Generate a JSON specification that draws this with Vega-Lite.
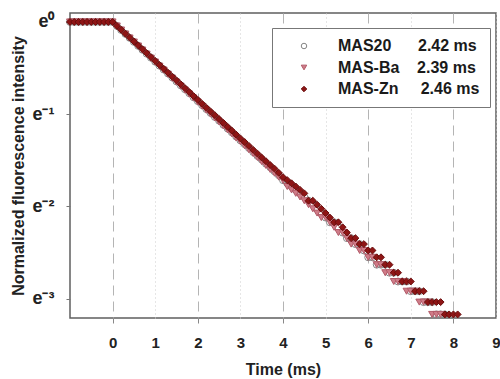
{
  "$schema": "https://vega.github.io/schema/vega-lite/v6.json",
  "width": 426,
  "height": 305,
  "autosize": {"type": "none"},
  "padding": {"left": 70, "top": 13, "right": 4, "bottom": 61},
  "background": "white",
  "config": {
    "font": "Liberation Sans",
    "view": {"stroke": "#5f5f5f", "strokeWidth": 1.5}
  },
  "data": {"values": [
    {"s":"MAS20","t":-1.0,"I":1},{"s":"MAS20","t":-0.9,"I":1},{"s":"MAS20","t":-0.8,"I":1},{"s":"MAS20","t":-0.7,"I":1},{"s":"MAS20","t":-0.6,"I":1},{"s":"MAS20","t":-0.5,"I":1},{"s":"MAS20","t":-0.4,"I":1},{"s":"MAS20","t":-0.3,"I":1},{"s":"MAS20","t":-0.2,"I":1},{"s":"MAS20","t":-0.1,"I":1},{"s":"MAS20","t":0.0,"I":1},
    {"s":"MAS20","t":0.1,"I":0.958},{"s":"MAS20","t":0.2,"I":0.917},{"s":"MAS20","t":0.3,"I":0.879},{"s":"MAS20","t":0.4,"I":0.842},{"s":"MAS20","t":0.5,"I":0.806},{"s":"MAS20","t":0.6,"I":0.772},{"s":"MAS20","t":0.7,"I":0.740},{"s":"MAS20","t":0.8,"I":0.709},{"s":"MAS20","t":0.9,"I":0.679},
    {"s":"MAS20","t":1.0,"I":0.650},{"s":"MAS20","t":1.1,"I":0.623},{"s":"MAS20","t":1.2,"I":0.597},{"s":"MAS20","t":1.3,"I":0.572},{"s":"MAS20","t":1.4,"I":0.548},{"s":"MAS20","t":1.5,"I":0.525},{"s":"MAS20","t":1.6,"I":0.503},{"s":"MAS20","t":1.7,"I":0.482},{"s":"MAS20","t":1.8,"I":0.462},{"s":"MAS20","t":1.9,"I":0.442},
    {"s":"MAS20","t":2.0,"I":0.424},{"s":"MAS20","t":2.1,"I":0.406},{"s":"MAS20","t":2.2,"I":0.389},{"s":"MAS20","t":2.3,"I":0.373},{"s":"MAS20","t":2.4,"I":0.357},{"s":"MAS20","t":2.5,"I":0.343},{"s":"MAS20","t":2.6,"I":0.328},{"s":"MAS20","t":2.7,"I":0.315},{"s":"MAS20","t":2.8,"I":0.302},{"s":"MAS20","t":2.9,"I":0.289},
    {"s":"MAS20","t":3.0,"I":0.277},{"s":"MAS20","t":3.1,"I":0.266},{"s":"MAS20","t":3.2,"I":0.255},{"s":"MAS20","t":3.3,"I":0.244},{"s":"MAS20","t":3.4,"I":0.234},{"s":"MAS20","t":3.5,"I":0.225},{"s":"MAS20","t":3.6,"I":0.215},{"s":"MAS20","t":3.7,"I":0.207},{"s":"MAS20","t":3.8,"I":0.198},{"s":"MAS20","t":3.9,"I":0.190},
    {"s":"MAS20","t":4.0,"I":0.180},{"s":"MAS20","t":4.1,"I":0.174},{"s":"MAS20","t":4.2,"I":0.168},{"s":"MAS20","t":4.3,"I":0.162},{"s":"MAS20","t":4.4,"I":0.156},{"s":"MAS20","t":4.5,"I":0.150},{"s":"MAS20","t":4.6,"I":0.144},{"s":"MAS20","t":4.7,"I":0.138},{"s":"MAS20","t":4.8,"I":0.132},{"s":"MAS20","t":4.9,"I":0.126},
    {"s":"MAS20","t":5.0,"I":0.120},{"s":"MAS20","t":5.1,"I":0.114},{"s":"MAS20","t":5.2,"I":0.114},{"s":"MAS20","t":5.3,"I":0.108},{"s":"MAS20","t":5.4,"I":0.102},{"s":"MAS20","t":5.5,"I":0.096},{"s":"MAS20","t":5.6,"I":0.096},{"s":"MAS20","t":5.7,"I":0.090},{"s":"MAS20","t":5.8,"I":0.090},{"s":"MAS20","t":5.9,"I":0.084},
    {"s":"MAS20","t":6.0,"I":0.078},{"s":"MAS20","t":6.1,"I":0.078},{"s":"MAS20","t":6.2,"I":0.072},{"s":"MAS20","t":6.3,"I":0.072},{"s":"MAS20","t":6.4,"I":0.072},{"s":"MAS20","t":6.5,"I":0.066},{"s":"MAS20","t":6.6,"I":0.066},{"s":"MAS20","t":6.7,"I":0.060},{"s":"MAS20","t":6.8,"I":0.060},{"s":"MAS20","t":6.9,"I":0.060},
    {"s":"MAS20","t":7.0,"I":0.054},{"s":"MAS20","t":7.1,"I":0.054},{"s":"MAS20","t":7.2,"I":0.054},{"s":"MAS20","t":7.3,"I":0.048},{"s":"MAS20","t":7.4,"I":0.048},{"s":"MAS20","t":7.5,"I":0.048},{"s":"MAS20","t":7.6,"I":0.042},{"s":"MAS20","t":7.7,"I":0.042},{"s":"MAS20","t":7.8,"I":0.042},

    {"s":"MAS-Ba","t":-1.0,"I":1},{"s":"MAS-Ba","t":-0.9,"I":1},{"s":"MAS-Ba","t":-0.8,"I":1},{"s":"MAS-Ba","t":-0.7,"I":1},{"s":"MAS-Ba","t":-0.6,"I":1},{"s":"MAS-Ba","t":-0.5,"I":1},{"s":"MAS-Ba","t":-0.4,"I":1},{"s":"MAS-Ba","t":-0.3,"I":1},{"s":"MAS-Ba","t":-0.2,"I":1},{"s":"MAS-Ba","t":-0.1,"I":1},{"s":"MAS-Ba","t":0.0,"I":1},
    {"s":"MAS-Ba","t":0.1,"I":0.957},{"s":"MAS-Ba","t":0.2,"I":0.916},{"s":"MAS-Ba","t":0.3,"I":0.877},{"s":"MAS-Ba","t":0.4,"I":0.840},{"s":"MAS-Ba","t":0.5,"I":0.804},{"s":"MAS-Ba","t":0.6,"I":0.770},{"s":"MAS-Ba","t":0.7,"I":0.737},{"s":"MAS-Ba","t":0.8,"I":0.705},{"s":"MAS-Ba","t":0.9,"I":0.675},
    {"s":"MAS-Ba","t":1.0,"I":0.647},{"s":"MAS-Ba","t":1.1,"I":0.619},{"s":"MAS-Ba","t":1.2,"I":0.593},{"s":"MAS-Ba","t":1.3,"I":0.567},{"s":"MAS-Ba","t":1.4,"I":0.543},{"s":"MAS-Ba","t":1.5,"I":0.520},{"s":"MAS-Ba","t":1.6,"I":0.498},{"s":"MAS-Ba","t":1.7,"I":0.477},{"s":"MAS-Ba","t":1.8,"I":0.457},{"s":"MAS-Ba","t":1.9,"I":0.438},
    {"s":"MAS-Ba","t":2.0,"I":0.419},{"s":"MAS-Ba","t":2.1,"I":0.401},{"s":"MAS-Ba","t":2.2,"I":0.384},{"s":"MAS-Ba","t":2.3,"I":0.368},{"s":"MAS-Ba","t":2.4,"I":0.353},{"s":"MAS-Ba","t":2.5,"I":0.338},{"s":"MAS-Ba","t":2.6,"I":0.324},{"s":"MAS-Ba","t":2.7,"I":0.310},{"s":"MAS-Ba","t":2.8,"I":0.297},{"s":"MAS-Ba","t":2.9,"I":0.284},
    {"s":"MAS-Ba","t":3.0,"I":0.273},{"s":"MAS-Ba","t":3.1,"I":0.261},{"s":"MAS-Ba","t":3.2,"I":0.250},{"s":"MAS-Ba","t":3.3,"I":0.240},{"s":"MAS-Ba","t":3.4,"I":0.230},{"s":"MAS-Ba","t":3.5,"I":0.220},{"s":"MAS-Ba","t":3.6,"I":0.211},{"s":"MAS-Ba","t":3.7,"I":0.202},{"s":"MAS-Ba","t":3.8,"I":0.194},{"s":"MAS-Ba","t":3.9,"I":0.186},
    {"s":"MAS-Ba","t":4.0,"I":0.180},{"s":"MAS-Ba","t":4.1,"I":0.168},{"s":"MAS-Ba","t":4.2,"I":0.162},{"s":"MAS-Ba","t":4.3,"I":0.156},{"s":"MAS-Ba","t":4.4,"I":0.150},{"s":"MAS-Ba","t":4.5,"I":0.144},{"s":"MAS-Ba","t":4.6,"I":0.138},{"s":"MAS-Ba","t":4.7,"I":0.132},{"s":"MAS-Ba","t":4.8,"I":0.126},{"s":"MAS-Ba","t":4.9,"I":0.120},
    {"s":"MAS-Ba","t":5.0,"I":0.120},{"s":"MAS-Ba","t":5.1,"I":0.114},{"s":"MAS-Ba","t":5.2,"I":0.108},{"s":"MAS-Ba","t":5.3,"I":0.102},{"s":"MAS-Ba","t":5.4,"I":0.102},{"s":"MAS-Ba","t":5.5,"I":0.096},{"s":"MAS-Ba","t":5.6,"I":0.090},{"s":"MAS-Ba","t":5.7,"I":0.090},{"s":"MAS-Ba","t":5.8,"I":0.084},{"s":"MAS-Ba","t":5.9,"I":0.084},
    {"s":"MAS-Ba","t":6.0,"I":0.078},{"s":"MAS-Ba","t":6.1,"I":0.078},{"s":"MAS-Ba","t":6.2,"I":0.072},{"s":"MAS-Ba","t":6.3,"I":0.072},{"s":"MAS-Ba","t":6.4,"I":0.066},{"s":"MAS-Ba","t":6.5,"I":0.066},{"s":"MAS-Ba","t":6.6,"I":0.060},{"s":"MAS-Ba","t":6.7,"I":0.060},{"s":"MAS-Ba","t":6.8,"I":0.060},{"s":"MAS-Ba","t":6.9,"I":0.054},
    {"s":"MAS-Ba","t":7.0,"I":0.054},{"s":"MAS-Ba","t":7.1,"I":0.054},{"s":"MAS-Ba","t":7.2,"I":0.048},{"s":"MAS-Ba","t":7.3,"I":0.048},{"s":"MAS-Ba","t":7.4,"I":0.048},{"s":"MAS-Ba","t":7.5,"I":0.042},{"s":"MAS-Ba","t":7.6,"I":0.042},{"s":"MAS-Ba","t":7.7,"I":0.042},

    {"s":"MAS-Zn","t":-1.0,"I":1},{"s":"MAS-Zn","t":-0.9,"I":1},{"s":"MAS-Zn","t":-0.8,"I":1},{"s":"MAS-Zn","t":-0.7,"I":1},{"s":"MAS-Zn","t":-0.6,"I":1},{"s":"MAS-Zn","t":-0.5,"I":1},{"s":"MAS-Zn","t":-0.4,"I":1},{"s":"MAS-Zn","t":-0.3,"I":1},{"s":"MAS-Zn","t":-0.2,"I":1},{"s":"MAS-Zn","t":-0.1,"I":1},{"s":"MAS-Zn","t":0.0,"I":1},
    {"s":"MAS-Zn","t":0.1,"I":0.958},{"s":"MAS-Zn","t":0.2,"I":0.919},{"s":"MAS-Zn","t":0.3,"I":0.881},{"s":"MAS-Zn","t":0.4,"I":0.844},{"s":"MAS-Zn","t":0.5,"I":0.809},{"s":"MAS-Zn","t":0.6,"I":0.776},{"s":"MAS-Zn","t":0.7,"I":0.744},{"s":"MAS-Zn","t":0.8,"I":0.713},{"s":"MAS-Zn","t":0.9,"I":0.683},
    {"s":"MAS-Zn","t":1.0,"I":0.655},{"s":"MAS-Zn","t":1.1,"I":0.628},{"s":"MAS-Zn","t":1.2,"I":0.602},{"s":"MAS-Zn","t":1.3,"I":0.577},{"s":"MAS-Zn","t":1.4,"I":0.553},{"s":"MAS-Zn","t":1.5,"I":0.531},{"s":"MAS-Zn","t":1.6,"I":0.509},{"s":"MAS-Zn","t":1.7,"I":0.488},{"s":"MAS-Zn","t":1.8,"I":0.468},{"s":"MAS-Zn","t":1.9,"I":0.448},
    {"s":"MAS-Zn","t":2.0,"I":0.430},{"s":"MAS-Zn","t":2.1,"I":0.412},{"s":"MAS-Zn","t":2.2,"I":0.395},{"s":"MAS-Zn","t":2.3,"I":0.379},{"s":"MAS-Zn","t":2.4,"I":0.364},{"s":"MAS-Zn","t":2.5,"I":0.349},{"s":"MAS-Zn","t":2.6,"I":0.335},{"s":"MAS-Zn","t":2.7,"I":0.321},{"s":"MAS-Zn","t":2.8,"I":0.308},{"s":"MAS-Zn","t":2.9,"I":0.295},
    {"s":"MAS-Zn","t":3.0,"I":0.283},{"s":"MAS-Zn","t":3.1,"I":0.272},{"s":"MAS-Zn","t":3.2,"I":0.261},{"s":"MAS-Zn","t":3.3,"I":0.250},{"s":"MAS-Zn","t":3.4,"I":0.240},{"s":"MAS-Zn","t":3.5,"I":0.230},{"s":"MAS-Zn","t":3.6,"I":0.221},{"s":"MAS-Zn","t":3.7,"I":0.212},{"s":"MAS-Zn","t":3.8,"I":0.204},{"s":"MAS-Zn","t":3.9,"I":0.195},
    {"s":"MAS-Zn","t":4.0,"I":0.186},{"s":"MAS-Zn","t":4.1,"I":0.180},{"s":"MAS-Zn","t":4.2,"I":0.174},{"s":"MAS-Zn","t":4.3,"I":0.168},{"s":"MAS-Zn","t":4.4,"I":0.162},{"s":"MAS-Zn","t":4.5,"I":0.156},{"s":"MAS-Zn","t":4.6,"I":0.144},{"s":"MAS-Zn","t":4.7,"I":0.144},{"s":"MAS-Zn","t":4.8,"I":0.138},{"s":"MAS-Zn","t":4.9,"I":0.132},
    {"s":"MAS-Zn","t":5.0,"I":0.126},{"s":"MAS-Zn","t":5.1,"I":0.120},{"s":"MAS-Zn","t":5.2,"I":0.114},{"s":"MAS-Zn","t":5.3,"I":0.114},{"s":"MAS-Zn","t":5.4,"I":0.108},{"s":"MAS-Zn","t":5.5,"I":0.102},{"s":"MAS-Zn","t":5.6,"I":0.096},{"s":"MAS-Zn","t":5.7,"I":0.096},{"s":"MAS-Zn","t":5.8,"I":0.090},{"s":"MAS-Zn","t":5.9,"I":0.090},
    {"s":"MAS-Zn","t":6.0,"I":0.084},{"s":"MAS-Zn","t":6.1,"I":0.084},{"s":"MAS-Zn","t":6.2,"I":0.078},{"s":"MAS-Zn","t":6.3,"I":0.078},{"s":"MAS-Zn","t":6.4,"I":0.072},{"s":"MAS-Zn","t":6.5,"I":0.072},{"s":"MAS-Zn","t":6.6,"I":0.066},{"s":"MAS-Zn","t":6.7,"I":0.066},{"s":"MAS-Zn","t":6.8,"I":0.060},{"s":"MAS-Zn","t":6.9,"I":0.060},
    {"s":"MAS-Zn","t":7.0,"I":0.060},{"s":"MAS-Zn","t":7.1,"I":0.054},{"s":"MAS-Zn","t":7.2,"I":0.054},{"s":"MAS-Zn","t":7.3,"I":0.054},{"s":"MAS-Zn","t":7.4,"I":0.048},{"s":"MAS-Zn","t":7.5,"I":0.048},{"s":"MAS-Zn","t":7.6,"I":0.048},{"s":"MAS-Zn","t":7.7,"I":0.048},{"s":"MAS-Zn","t":7.8,"I":0.042},{"s":"MAS-Zn","t":7.9,"I":0.042},{"s":"MAS-Zn","t":8.0,"I":0.042},{"s":"MAS-Zn","t":8.1,"I":0.042}
  ]},
  "mark": {"type": "point", "size": 48, "strokeWidth": 1, "opacity": 1},
  "encoding": {
    "x": {
      "field": "t", "type": "quantitative",
      "scale": {"domain": [-1, 9], "nice": false, "zero": false},
      "axis": {
        "values": [0, 1, 2, 3, 4, 5, 6, 7, 8, 9],
        "title": "Time (ms)",
        "grid": true,
        "gridColor": {"condition": {"test": "datum.value % 2 === 0", "value": "#b4b4b4"}, "value": "#cccccc"},
        "gridDash": {"condition": {"test": "datum.value % 2 === 0", "value": [10, 6]}, "value": [1, 3]},
        "gridWidth": 1,
        "tickColor": {"condition": {"test": "datum.value % 2 === 0", "value": "#888888"}, "value": "transparent"},
        "tickSize": 5,
        "domain": false,
        "labelFont": "Liberation Sans",
        "labelFontWeight": "bold",
        "labelFontSize": 15,
        "labelColor": "#222222",
        "labelPadding": 12,
        "labelFlush": false,
        "titleFont": "Liberation Sans",
        "titleFontSize": 16,
        "titleFontWeight": "bold",
        "titleColor": "#222222",
        "titleY": 56,
        "titleBaseline": "alphabetic"
      }
    },
    "y": {
      "field": "I", "type": "quantitative",
      "scale": {"type": "log", "base": 2.718281828459045, "domain": [0.0404, 1.102], "nice": false, "zero": false},
      "axis": {
        "values": [1, 0.36787944, 0.13533528, 0.04978707],
        "labelExpr": "datum.value > 0.6 ? 'e⁰' : datum.value > 0.25 ? 'e⁻¹' : datum.value > 0.09 ? 'e⁻²' : 'e⁻³'",
        "grid": false,
        "tickSize": 4,
        "tickColor": "#777777",
        "domain": false,
        "labelFont": "Liberation Sans",
        "labelFontWeight": "bold",
        "labelFontSize": 18,
        "labelColor": "#222222",
        "labelPadding": 12,
        "labelBaseline": "middle",
        "title": "Normalized fluorescence intensity",
        "titleFont": "Liberation Sans",
        "titleFontSize": 16,
        "titleFontWeight": "bold",
        "titleColor": "#222222",
        "titleX": -52,
        "titleY": 152.5,
        "titleAngle": -90,
        "titleAlign": "center",
        "titleBaseline": "middle"
      }
    },
    "shape": {
      "field": "s", "type": "nominal",
      "scale": {"domain": ["MAS20", "MAS-Ba", "MAS-Zn"], "range": ["circle", "triangle-down", "diamond"]},
      "legend": {
        "orient": "none", "legendX": 202, "legendY": 15,
        "title": null,
        "padding": 10,
        "strokeColor": "#777777",
        "fillColor": "white",
        "symbolOffset": 14,
        "symbolSize": 30,
        "symbolStrokeWidth": 1,
        "labelOffset": 26,
        "rowPadding": 5.5,
        "labelFont": "Liberation Sans",
        "labelFontSize": 16,
        "labelFontWeight": "bold",
        "labelColor": "#1a1a1a",
        "labelLimit": 300,
        "labelExpr": "datum.label == 'MAS20' ? 'MAS20\u00a0\u00a0\u00a0\u00a0\u00a0\u00a02.42 ms' : datum.label == 'MAS-Ba' ? 'MAS-Ba\u00a0\u00a0\u00a0\u00a02.39 ms' : 'MAS-Zn\u00a0\u00a0\u00a0\u00a0\u00a02.46 ms'"
      }
    },
    "fill": {
      "field": "s", "type": "nominal",
      "scale": {"domain": ["MAS20", "MAS-Ba", "MAS-Zn"], "range": ["transparent", "#cf7c88", "#8e1515"]}
    },
    "stroke": {
      "field": "s", "type": "nominal",
      "scale": {"domain": ["MAS20", "MAS-Ba", "MAS-Zn"], "range": ["#858585", "#b25a68", "#6a0c0c"]}
    }
  }
}
